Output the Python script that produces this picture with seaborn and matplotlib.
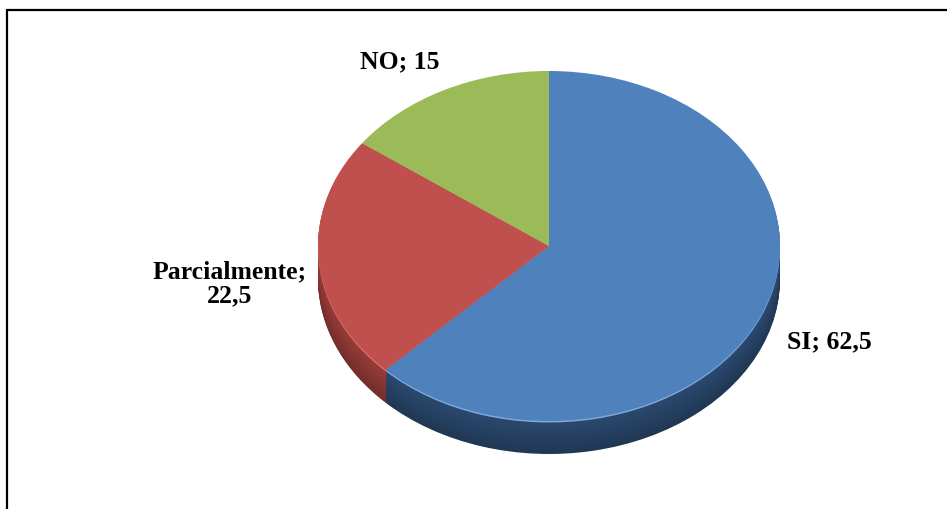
import numpy as np
import matplotlib
matplotlib.use("Agg")
import matplotlib.pyplot as plt
import seaborn as sns
from matplotlib.lines import Line2D

categories = ["SI", "Parcialmente", "NO"]
values = [62.5, 22.5, 15]
label_texts = ["SI; 62,5", "Parcialmente;\n22,5", "NO; 15"]

top_colors = ["#4F81BD", "#C0504D", "#9BBB59"]
side_colors = ["#2B4A70", "#9A3D3A", "#7A9446"]

sns.set_theme(style="white")
plt.rcParams["font.family"] = ["Liberation Serif", "DejaVu Serif"]

W, H = 947, 510
fig = plt.figure(figsize=(W / 100, H / 100), dpi=100)
ax = fig.add_axes([0, 0, 1, 1])

cx, cy = 549, 247      # pixel centre of top face
rx, ry = 231, 175
k = rx / ry
depth = 33

def Y(py):
    return (H - py) * k

# side of the 3D pie: stacked layers, darker toward the bottom
n = depth
for i in range(n, 0, -1):
    f = 0.75 + 0.25 * (1 - i / n)
    cols = []
    for c in side_colors:
        rgb = np.array(matplotlib.colors.to_rgb(c)) * f
        cols.append(tuple(np.clip(rgb, 0, 1)))
    ax.pie(values, colors=cols, startangle=90, counterclock=False,
           center=(cx, Y(cy + i)), radius=rx, frame=True,
           wedgeprops=dict(linewidth=0))

# light rim highlight
ax.pie(values, colors=["#7FA8DA", "#E07470", "#B5D07A"], startangle=90,
       counterclock=False, center=(cx, Y(cy + 1.5)), radius=rx, frame=True,
       wedgeprops=dict(linewidth=0))

# top face
ax.pie(values, colors=top_colors, startangle=90, counterclock=False,
       center=(cx, Y(cy)), radius=rx, frame=True,
       wedgeprops=dict(linewidth=0))

ax.set_aspect("auto")
ax.set_xlim(0, W)
ax.set_ylim(0, H * k)
ax.axis("off")

# data labels
label_pos = [(829, 342), (230, 284), (400, 62)]
for txt, (px, py) in zip(label_texts, label_pos):
    ax.text(px, Y(py), txt, ha="center", va="center", fontsize=18.5,
            fontweight="bold", color="black", linespacing=1.05)

# chart border (top and left visible)
fig.add_artist(Line2D([7 / W, 1], [1 - 11 / H, 1 - 11 / H], color="black", lw=1.6))
fig.add_artist(Line2D([7 / W, 7 / W], [0, 1 - 11 / H], color="black", lw=1.6))

fig.savefig("out.png", dpi=100, facecolor="white")
